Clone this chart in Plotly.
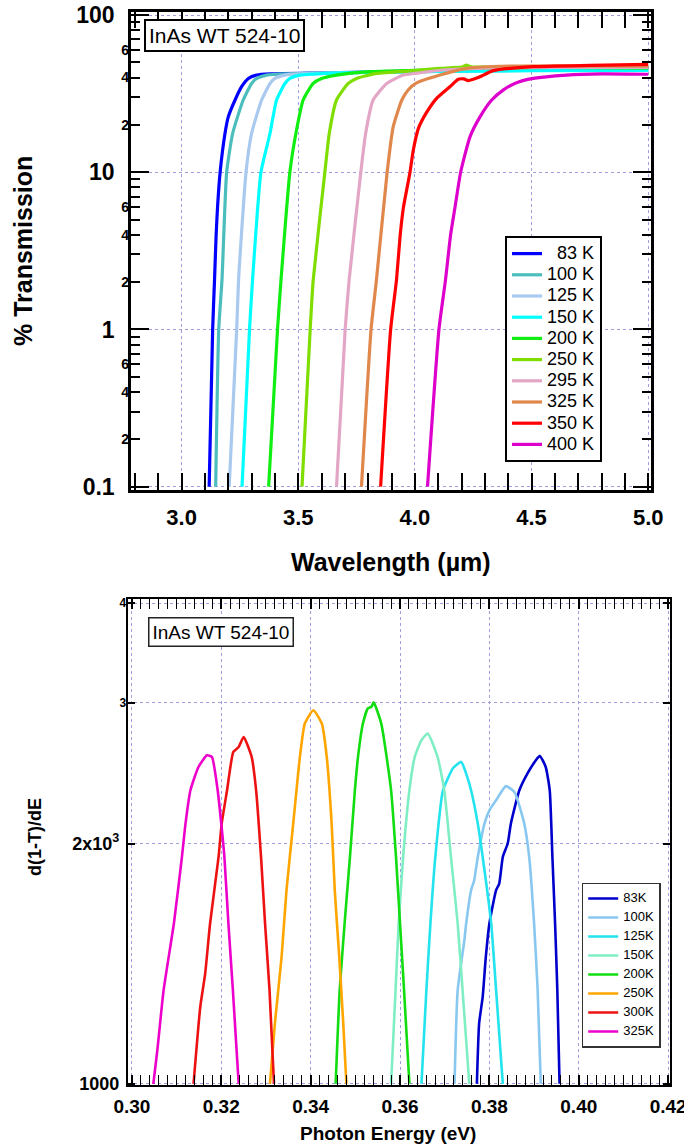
import numpy as np
import plotly.graph_objects as go

FONT = "Arial, 'Liberation Sans', Helvetica, sans-serif"
W, H = 684, 1148

# ---------------- Top panel data: % transmission vs wavelength (um) ----------------
top_names = ["\u200783 K", "100 K", "125 K", "150 K", "200 K", "250 K", "295 K", "325 K", "350 K", "400 K"]
top_colors = ["#0000ff", "#4cbdbd", "#a9c9ef", "#00ffff", "#11ee11", "#80dd00",
              "#e3a6c6", "#e0874c", "#ff0000", "#dd00cc"]

wl_83 = [3.118, 3.133, 3.141, 3.148, 3.154, 3.165, 3.186, 3.200, 3.229, 3.257, 3.286, 3.322, 3.380, 3.600, 3.890, 4.320, 5.000]
tr_83 = [0.1, 1.0, 2.06, 4.0, 6.0, 10.0, 17.7, 22.5, 28.8, 35.0, 39.5, 41.5, 42.2, 42.8, 43.6, 44.8, 44.6]
wl_100 = [3.146, 3.159, 3.173, 3.193, 3.219, 3.264, 3.300, 3.322, 3.364, 3.450, 3.700, 4.000, 4.500, 5.000]
tr_100 = [0.1, 1.0, 2.06, 10.0, 17.7, 28.8, 36.7, 39.5, 41.5, 42.3, 43.0, 43.6, 44.5, 44.5]
wl_125 = [3.204, 3.236, 3.244, 3.276, 3.300, 3.343, 3.379, 3.400, 3.443, 3.550, 3.800, 4.200, 4.600, 5.000]
tr_125 = [0.1, 1.0, 2.06, 10.0, 17.7, 28.8, 36.7, 39.5, 41.5, 42.5, 43.2, 44.0, 44.8, 45.0]
wl_150 = [3.259, 3.291, 3.304, 3.340, 3.379, 3.407, 3.443, 3.464, 3.507, 3.679, 4.000, 4.500, 5.000]
tr_150 = [0.1, 1.0, 2.06, 10.0, 17.7, 28.8, 36.7, 39.5, 41.5, 42.9, 43.6, 44.3, 44.5]
wl_200 = [3.373, 3.411, 3.426, 3.464, 3.490, 3.521, 3.564, 3.600, 3.664, 3.807, 4.000, 4.320, 4.600, 5.000]
tr_200 = [0.1, 1.0, 2.06, 10.0, 17.7, 28.8, 36.7, 39.5, 41.5, 43.6, 44.5, 46.0, 46.5, 46.0]
wl_250 = [3.516, 3.551, 3.564, 3.614, 3.633, 3.664, 3.714, 3.750, 3.836, 4.000, 4.107, 4.200, 4.221, 4.240, 4.500, 5.000]
tr_250 = [0.1, 1.0, 2.06, 10.0, 17.7, 28.8, 36.7, 39.5, 42.5, 44.3, 45.8, 46.6, 48.0, 46.8, 46.8, 46.5]
wl_295 = [3.664, 3.701, 3.718, 3.768, 3.789, 3.821, 3.879, 3.950, 4.000, 4.121, 4.300, 4.600, 5.000]
tr_295 = [0.1, 1.0, 2.06, 10.0, 17.7, 28.8, 36.7, 41.5, 42.5, 44.7, 46.0, 46.5, 46.5]
wl_325 = [3.771, 3.812, 3.835, 3.881, 3.907, 3.944, 3.972, 4.007, 4.107, 4.221, 4.364, 4.600, 5.000]
tr_325 = [0.1, 1.0, 2.06, 10.0, 19.5, 28.8, 33.5, 37.0, 41.5, 45.8, 47.2, 47.5, 47.2]
wl_350 = [3.853, 3.896, 3.921, 3.937, 3.951, 3.979, 3.993, 4.015, 4.050, 4.093, 4.150, 4.186, 4.210, 4.228, 4.250, 4.279, 4.335, 4.507, 4.750, 5.000]
tr_350 = [0.1, 1.0, 2.06, 4.0, 6.0, 10.0, 13.8, 19.0, 24.0, 29.5, 35.0, 39.0, 39.2, 38.3, 39.0, 40.5, 44.3, 46.9, 47.8, 48.5]
wl_400 = [4.054, 4.103, 4.131, 4.153, 4.172, 4.196, 4.236, 4.279, 4.329, 4.378, 4.428, 4.507, 4.650, 4.800, 5.000]
tr_400 = [0.1, 1.0, 2.06, 4.0, 6.0, 10.0, 16.8, 22.5, 28.8, 33.3, 36.7, 39.5, 41.5, 42.2, 42.0]

top_wl = [wl_83, wl_100, wl_125, wl_150, wl_200, wl_250, wl_295, wl_325, wl_350, wl_400]
top_tr = [tr_83, tr_100, tr_125, tr_150, tr_200, tr_250, tr_295, tr_325, tr_350, tr_400]

top_xticks = [3.0, 3.5, 4.0, 4.5, 5.0]
top_xticktext = ["3.0", "3.5", "4.0", "4.5", "5.0"]
top_yticks = [0.1, 1, 10, 100]
top_yticktext = ["0.1", "1", "10", "100"]
top_yminor_lab = [0.2, 0.4, 0.6, 2, 4, 6, 20, 40, 60]
top_yminor_text = ["2", "4", "6", "2", "4", "6", "2", "4", "6"]

# ---------------- Bottom panel data: d(1-T)/dE vs photon energy (eV) ----------------
bot_names = ["83K", "100K", "125K", "150K", "200K", "250K", "300K", "325K"]
bot_colors = ["#0000cc", "#88c8f0", "#22e3ee", "#80eec4", "#11dd11", "#ffa500", "#ee1111", "#ee00cc"]

e_83 = [0.3772, 0.3777, 0.3785, 0.3792, 0.3800, 0.3815, 0.3822, 0.3830, 0.3841, 0.3848, 0.3867, 0.3885, 0.3904, 0.3913, 0.3926, 0.3935, 0.3941, 0.3947, 0.3952, 0.3957]
d_83 = [1000, 1190, 1285, 1442, 1588, 1748, 1782, 1924, 2000, 2118, 2332, 2447, 2543, 2575, 2494, 2332, 1924, 1588, 1310, 1000]
e_100 = [0.3722, 0.3729, 0.3744, 0.3748, 0.3759, 0.3766, 0.3774, 0.3789, 0.3800, 0.3815, 0.3837, 0.3856, 0.3878, 0.3889, 0.3900, 0.3908, 0.3915]
d_100 = [1000, 1310, 1513, 1588, 1748, 1799, 1924, 2118, 2201, 2266, 2360, 2320, 2118, 1924, 1588, 1310, 1000]
e_125 = [0.3648, 0.3659, 0.3668, 0.3679, 0.3696, 0.3707, 0.3718, 0.3737, 0.3748, 0.3759, 0.3774, 0.3785, 0.3804, 0.3815, 0.3830]
d_125 = [1000, 1310, 1588, 1924, 2332, 2413, 2483, 2531, 2447, 2332, 2118, 1924, 1588, 1310, 1000]
e_150 = [0.3580, 0.3590, 0.3597, 0.3607, 0.3621, 0.3633, 0.3648, 0.3662, 0.3684, 0.3699, 0.3714, 0.3729, 0.3740, 0.3755]
d_150 = [1000, 1310, 1588, 1924, 2332, 2568, 2694, 2747, 2568, 2332, 1924, 1588, 1310, 1000]
e_200 = [0.3456, 0.3465, 0.3476, 0.3488, 0.3499, 0.3506, 0.3517, 0.3528, 0.3536, 0.3541, 0.3558, 0.3580, 0.3591, 0.3600, 0.3609, 0.3621]
d_200 = [1000, 1310, 1588, 1924, 2332, 2568, 2827, 2953, 2967, 3005, 2827, 2332, 1924, 1588, 1310, 1000]
e_250 = [0.3309, 0.3320, 0.3335, 0.3346, 0.3361, 0.3376, 0.3387, 0.3406, 0.3425, 0.3436, 0.3447, 0.3454, 0.3464, 0.3473, 0.3480]
d_250 = [1000, 1190, 1442, 1748, 2118, 2568, 2827, 2938, 2827, 2568, 2118, 1748, 1442, 1190, 1000]
e_300 = [0.3138, 0.3153, 0.3164, 0.3175, 0.3194, 0.3201, 0.3213, 0.3227, 0.3239, 0.3250, 0.3268, 0.3278, 0.3289, 0.3298, 0.3308, 0.3318]
d_300 = [1000, 1248, 1374, 1588, 1924, 2118, 2332, 2605, 2642, 2720, 2568, 2332, 1924, 1588, 1310, 1000]
e_325 = [0.3048, 0.3057, 0.3071, 0.3094, 0.3112, 0.3120, 0.3131, 0.3149, 0.3168, 0.3179, 0.3192, 0.3200, 0.3207, 0.3216, 0.3226, 0.3239]
d_325 = [1000, 1102, 1310, 1588, 1924, 2118, 2332, 2494, 2580, 2568, 2332, 2118, 1924, 1588, 1310, 1000]

bot_e = [e_83, e_100, e_125, e_150, e_200, e_250, e_300, e_325]
bot_d = [d_83, d_100, d_125, d_150, d_200, d_250, d_300, d_325]

bot_xticks = [0.30, 0.32, 0.34, 0.36, 0.38, 0.40, 0.42]
bot_xticktext = ["0.30", "0.32", "0.34", "0.36", "0.38", "0.40", "0.42"]
bot_yticks = [1000, 2000, 3000, 4000]
bot_ybig = [1000, 2000]
bot_ybigtext = ["1000", "2x10<sup>3</sup>"]
bot_ysmall = [3000, 4000]
bot_ysmalltext = ["3", "4"]

# ---------------- figure ----------------
fig = go.Figure()

for name, col, x, y in zip(top_names, top_colors, top_wl, top_tr):
    fig.add_trace(go.Scatter(
        x=x, y=y, mode="lines", xaxis="x", yaxis="y", legend="legend",
        name="<span style='font-size:18px'>%s</span>" % name,
        line=dict(color=col, width=3.2, shape="spline", smoothing=0.5)))

for name, col, x, y in zip(bot_names, bot_colors, bot_e, bot_d):
    fig.add_trace(go.Scatter(
        x=x, y=y, mode="lines", xaxis="x2", yaxis="y2", legend="legend2",
        name="<span style='font-size:13px'>%s</span>" % name,
        line=dict(color=col, width=2.6, shape="spline", smoothing=0.5)))

# empty helper traces so the overlay label axes are drawn
for xa, ya in (("x", "y3"), ("x2", "y4"), ("x2", "y5")):
    fig.add_trace(go.Scatter(x=[], y=[], xaxis=xa, yaxis=ya, showlegend=False, hoverinfo="skip"))

GRID = "#a0a0e0"

def px_x(p):
    # window pixel -> paper fraction
    return p / W

def px_y(p):
    return 1 - p / H

top_dom_x = [px_x(131), px_x(651)]
top_dom_y = [px_y(490), px_y(11.7)]
bot_dom_x = [px_x(128.3), px_x(669.5)]
bot_dom_y = [px_y(1085), px_y(599.3)]

top_minor_y = [m * d for d in (0.1, 1, 10) for m in range(2, 10)]
top_minor_x = list(np.round(np.arange(2.8, 5.01, 0.1), 2))
bot_minor_x = list(np.round(np.arange(0.300, 0.4201, 0.002), 3))

TOP_YR = [-1.021, 2.021]
BOT_YR = [2.9985, 3.607]

def label_axis(over, anchor, yr, vals, text, size, standoff):
    return dict(overlaying=over, anchor=anchor, side="left", type="log", range=yr,
                showline=False, showgrid=False, zeroline=False, ticks="", automargin=False,
                tickmode="array", tickvals=vals, ticktext=text, ticklabeloverflow="allow",
                tickfont=dict(size=size, weight="bold", family=FONT, color="black"),
                ticklabelstandoff=standoff)

fig.update_layout(
    template="none",
    width=W, height=H, margin=dict(l=0, r=0, t=0, b=0, pad=0),
    paper_bgcolor="white", plot_bgcolor="white",
    font=dict(family=FONT, color="black"),
    xaxis=dict(
        domain=top_dom_x, anchor="y", range=[2.783, 5.012], automargin=False,
        showline=True, linecolor="black", linewidth=2.5, mirror="allticks",
        ticks="inside", ticklen=17, tickwidth=2, tickcolor="black",
        tickmode="array", tickvals=top_xticks, ticktext=top_xticktext, ticklabeloverflow="allow",
        tickfont=dict(size=22, weight="bold", family=FONT, color="black"), ticklabelstandoff=6,
        showgrid=True, gridcolor=GRID, griddash="dot", gridwidth=1, zeroline=False,
        minor=dict(tickmode="array", tickvals=top_minor_x, ticks="inside", ticklen=9,
                   tickwidth=1.5, tickcolor="black", showgrid=False),
    ),
    yaxis=dict(
        domain=top_dom_y, anchor="x", type="log", range=TOP_YR, automargin=False,
        showline=True, linecolor="black", linewidth=2.5, mirror="allticks",
        ticks="inside", ticklen=18, tickwidth=2, tickcolor="black",
        tickmode="array", tickvals=top_yticks, ticktext=top_yticktext, ticklabeloverflow="allow",
        tickfont=dict(size=23, weight="bold", family=FONT, color="black"), ticklabelstandoff=9,
        showgrid=True, gridcolor=GRID, griddash="dot", gridwidth=1, zeroline=False,
        minor=dict(tickmode="array", tickvals=top_minor_y, ticks="inside", ticklen=9,
                   tickwidth=1.5, tickcolor="black", showgrid=False),
    ),
    yaxis3=label_axis("y", "x", TOP_YR, top_yminor_lab, top_yminor_text, 14, 1),
    xaxis2=dict(
        domain=bot_dom_x, anchor="y2", range=[0.2992, 0.4203], automargin=False,
        showline=True, linecolor="black", linewidth=2, mirror="allticks",
        ticks="inside", ticklen=10, tickwidth=1.5, tickcolor="black",
        tickmode="array", tickvals=bot_xticks, ticktext=bot_xticktext, ticklabeloverflow="allow",
        tickfont=dict(size=19, weight="bold", family=FONT, color="black"), ticklabelstandoff=3,
        showgrid=True, gridcolor=GRID, griddash="dot", gridwidth=1, zeroline=False,
        minor=dict(tickmode="array", tickvals=bot_minor_x, ticks="inside", ticklen=5,
                   tickwidth=1, tickcolor="black", showgrid=False),
    ),
    yaxis2=dict(
        domain=bot_dom_y, anchor="x2", type="log", range=BOT_YR, automargin=False,
        showline=True, linecolor="black", linewidth=2, mirror="allticks",
        ticks="inside", ticklen=7, tickwidth=1.5, tickcolor="black",
        tickmode="array", tickvals=bot_yticks, showticklabels=False,
        showgrid=True, gridcolor=GRID, griddash="dot", gridwidth=1, zeroline=False,
    ),
    yaxis4=label_axis("y2", "x2", BOT_YR, bot_ybig, bot_ybigtext, 18, 8),
    yaxis5=label_axis("y2", "x2", BOT_YR, bot_ysmall, bot_ysmalltext, 12, 1),
    legend=dict(
        x=px_x(505), y=px_y(236), xanchor="left", yanchor="top",
        bgcolor="white", bordercolor="black", borderwidth=2,
        font=dict(size=14, family=FONT, color="black"), tracegroupgap=0,
        itemwidth=30,
    ),
    legend2=dict(
        x=px_x(581.7), y=px_y(965), xanchor="left", yanchor="middle",
        bgcolor="white", bordercolor="#333333", borderwidth=1.5,
        font=dict(size=10, family=FONT, color="black"), tracegroupgap=0,
        itemwidth=30,
    ),
    showlegend=True,
)

annos = [
    dict(text="<b>% Transmission</b>", x=px_x(23), y=px_y(251), textangle=-90,
         font=dict(size=25, family=FONT, color="black")),
    dict(text="<b>Wavelength (µm)</b>", x=px_x(391), y=px_y(562),
         font=dict(size=25, family=FONT, color="black")),
    dict(text="<b>d(1-T)/dE</b>", x=px_x(35), y=px_y(837), textangle=-90,
         font=dict(size=18, family=FONT, color="black")),
    dict(text="<b>Photon Energy (eV)</b>", x=px_x(388), y=px_y(1133),
         font=dict(size=19, family=FONT, color="black")),
]
for a in annos:
    fig.add_annotation(xref="paper", yref="paper", showarrow=False,
                       xanchor="center", yanchor="middle", **a)

fig.add_annotation(text="InAs WT 524-10", xref="paper", yref="paper",
                   x=px_x(144), y=px_y(19), xanchor="left", yanchor="top",
                   showarrow=False, font=dict(size=21, family=FONT, color="black"),
                   bgcolor="white", bordercolor="black", borderwidth=2, borderpad=3)
fig.add_annotation(text="InAs WT 524-10", xref="paper", yref="paper",
                   x=px_x(147.6), y=px_y(617), xanchor="left", yanchor="top",
                   showarrow=False, font=dict(size=19, family=FONT, color="black"),
                   bgcolor="white", bordercolor="#222222", borderwidth=1.5, borderpad=3)

# remove the browser's default 8px body margin so the figure fills the window exactly
fig.write_html("out.html", config={"displayModeBar": False},
               post_script="document.body.style.margin='0px';document.body.style.overflow='hidden';")
